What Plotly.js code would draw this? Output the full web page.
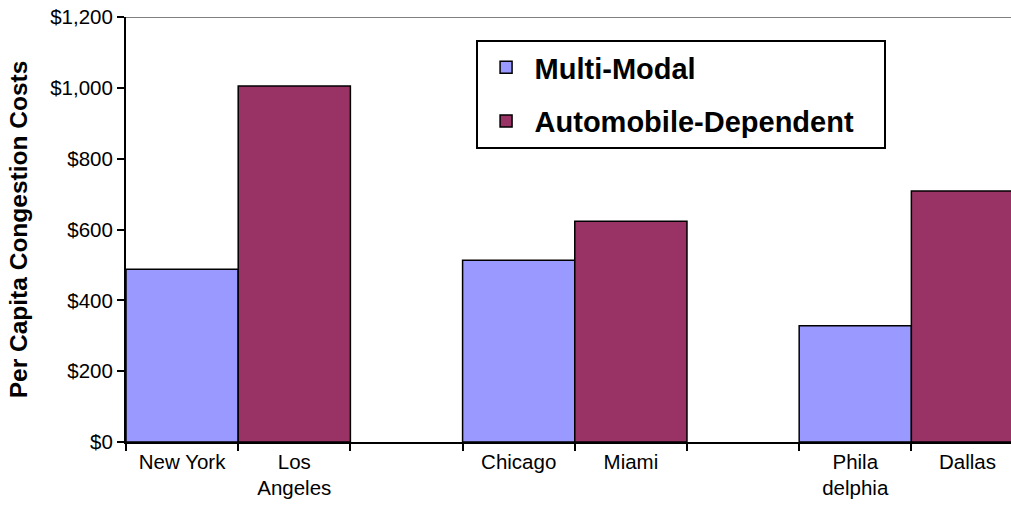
<!DOCTYPE html>
<html>
<head>
<meta charset="utf-8">
<script src="https://cdn.plot.ly/plotly-3.0.1.min.js"></script>
<style>html,body{margin:0;padding:0;background:#fff;}#chart{width:1011px;height:512px;}</style>
</head>
<body>
<div id="chart"></div>
<script>
// Category slots (blank slots give the gaps between city pairs)
const categories = ["New York", "Los<br>Angeles", " ", "Chicago", "Miami", "  ", "Phila<br>delphia", "Dallas"];
const multiModalCities = ["New York", "Chicago", "Phila<br>delphia"];
const multiModalValues = [488, 513, 328];
const autoCities = ["Los<br>Angeles", "Miami", "Dallas"];
const autoValues = [1005, 623, 709];
const yTickVals = [0, 200, 400, 600, 800, 1000, 1200];
const yTickText = ["$0", "$200", "$400", "$600", "$800", "$1,000", "$1,200"];

const font = "Liberation Sans, Arial, sans-serif";

const traces = [
  {
    type: "bar", name: "<b>Multi-Modal</b>", x: multiModalCities, y: multiModalValues,
    width: 1, marker: {color: "#9999FF", line: {color: "#000", width: 1.5}},
    legendgroup: "a"
  },
  {
    type: "bar", name: "<b>Automobile-Dependent</b>&nbsp;&nbsp;&nbsp;", x: autoCities, y: autoValues,
    width: 1, marker: {color: "#993366", line: {color: "#000", width: 1.5}},
    legendgroup: "b"
  }
];

const layout = {
  width: 1011, height: 512,
  margin: {l: 126, r: 0, t: 17, b: 70, pad: 0},
  paper_bgcolor: "#fff", plot_bgcolor: "#fff",
  barmode: "overlay",
  font: {family: font, size: 21, color: "#000"},
  xaxis: {
    type: "category", categoryorder: "array", categoryarray: categories,
    range: [-0.5, 7.388], tickson: "boundaries",
    ticks: "outside", ticklen: 7, tickwidth: 2, tickcolor: "#000",
    showline: true, linecolor: "#000", linewidth: 2,
    showgrid: false, zeroline: false, fixedrange: true,
    tickfont: {family: font, size: 20.5, color: "#000"}
  },
  yaxis: {
    range: [0, 1200], tickmode: "array", tickvals: yTickVals, ticktext: yTickText,
    ticks: "outside", ticklen: 7, tickwidth: 2, tickcolor: "#000",
    showline: true, linecolor: "#000", linewidth: 2,
    showgrid: false, zeroline: false, fixedrange: true,
    tickfont: {family: font, size: 20.5, color: "#000"},
    title: {text: "<b>Per Capita Congestion Costs</b>", font: {family: font, size: 24.5, color: "#000"}, standoff: 16}
  },
  shapes: [
    {type: "line", xref: "paper", yref: "y", x0: 0, x1: 1, y0: 1200, y1: 1200,
     line: {color: "#808080", width: 2}}
  ],
  legend: {
    x: 0.395, y: 0.946, xanchor: "left", yanchor: "top",
    bgcolor: "#fff", bordercolor: "#000", borderwidth: 2,
    font: {family: font, size: 29, color: "#000"},
    traceorder: "grouped", tracegroupgap: 13,
    itemwidth: 47
  },
  showlegend: true
};

Plotly.newPlot("chart", traces, layout, {displayModeBar: false, staticPlot: true});
</script>
</body>
</html>
